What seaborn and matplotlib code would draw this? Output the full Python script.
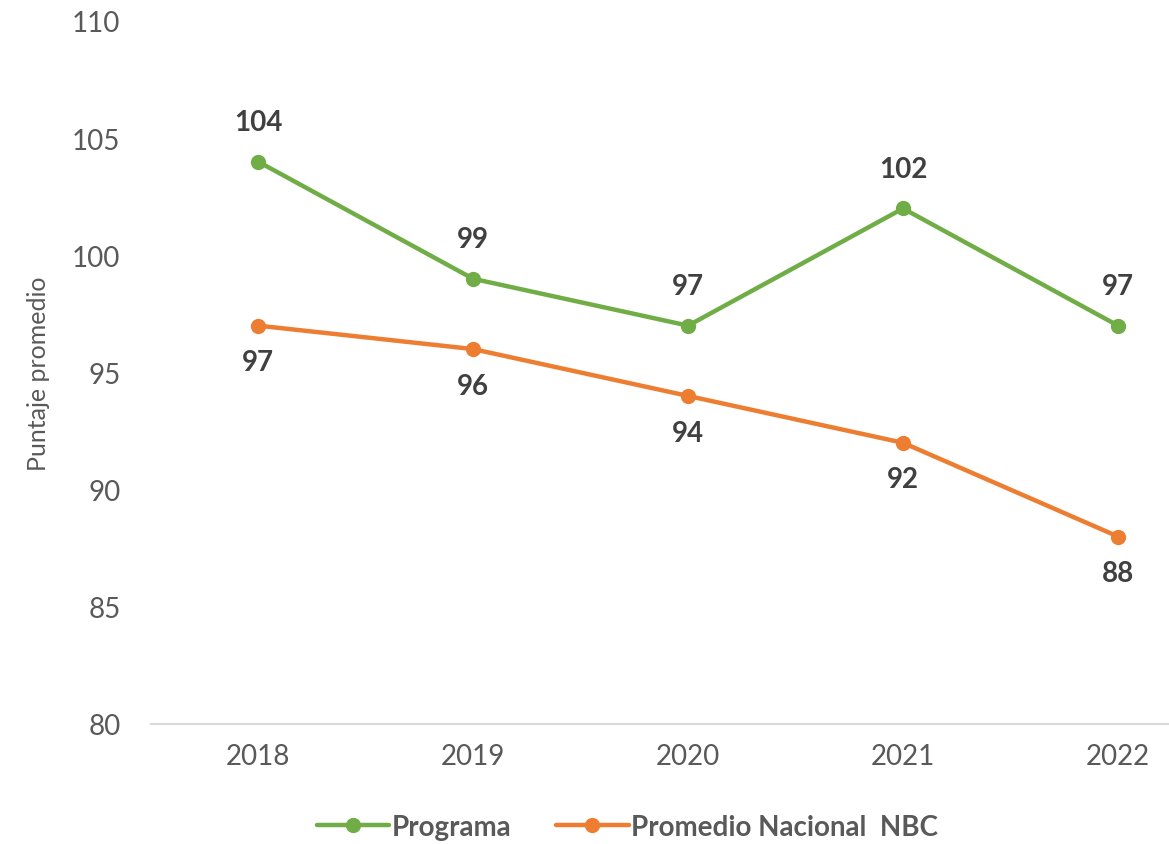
import matplotlib
matplotlib.use("Agg")
import matplotlib.pyplot as plt
import seaborn as sns
import pandas as pd
from matplotlib.lines import Line2D

years = ["2018", "2019", "2020", "2021", "2022"]
programa = [104, 99, 97, 102, 97]
nacional = [97, 96, 94, 92, 88]
series_names = ["Programa", "Promedio Nacional  NBC"]
colors = ["#70AD47", "#ED7D31"]
yticks = [80, 85, 90, 95, 100, 105, 110]

sns.set_theme(style="white")
plt.rcParams["font.family"] = ["Lato", "DejaVu Sans"]

df = pd.DataFrame({
    "Año": years * 2,
    "Puntaje": programa + nacional,
    "Serie": [series_names[0]] * len(years) + [series_names[1]] * len(years),
})

fig = plt.figure(figsize=(11.69, 8.45), dpi=100)
ax = fig.add_axes([151 / 1169, 1 - 725 / 845, 1 - 151 / 1169, (725 - 22) / 845])

sns.lineplot(data=df, x="Año", y="Puntaje", hue="Serie", palette=colors,
             marker="o", markersize=11, markeredgewidth=0, linewidth=3.2,
             ax=ax, legend=False, sort=False)

ax.set_ylim(80, 110)
ax.set_xlim(-0.498, 4.237)
ax.set_yticks(yticks)
ax.set_yticklabels([str(t) for t in yticks])
ax.tick_params(axis="both", length=0, labelsize=20, colors="#595959")
ax.tick_params(axis="y", pad=22)
ax.tick_params(axis="x", pad=14)
for s in ["top", "right", "left"]:
    ax.spines[s].set_visible(False)
ax.spines["bottom"].set_color("#D9D9D9")
ax.spines["bottom"].set_linewidth(1.5)
ax.set_xlabel("")
ax.set_ylabel("Puntaje promedio", fontsize=18, color="#595959", labelpad=16)
ax.patch.set_alpha(0)

for i, v in enumerate(programa):
    ax.annotate(str(v), (i, v), xytext=(0, 19), textcoords="offset points",
                ha="center", va="bottom", fontsize=20, fontweight="bold", color="#404040")
for i, v in enumerate(nacional):
    ax.annotate(str(v), (i, v), xytext=(0, -17), textcoords="offset points",
                ha="center", va="top", fontsize=20, fontweight="bold", color="#404040")

handles = [Line2D([0], [0], color=c, lw=3.2, marker="o", markersize=11, markeredgewidth=0)
           for c in colors]
leg = fig.legend(handles, series_names, loc="center", bbox_to_anchor=(0.537, 0.02),
                 ncol=2, frameon=False, handlelength=2.6, handletextpad=0.1,
                 columnspacing=1.6, prop={"size": 20, "weight": "bold"})
for t in leg.get_texts():
    t.set_color("#595959")

fig.savefig("out.png", dpi=100, facecolor="white")
